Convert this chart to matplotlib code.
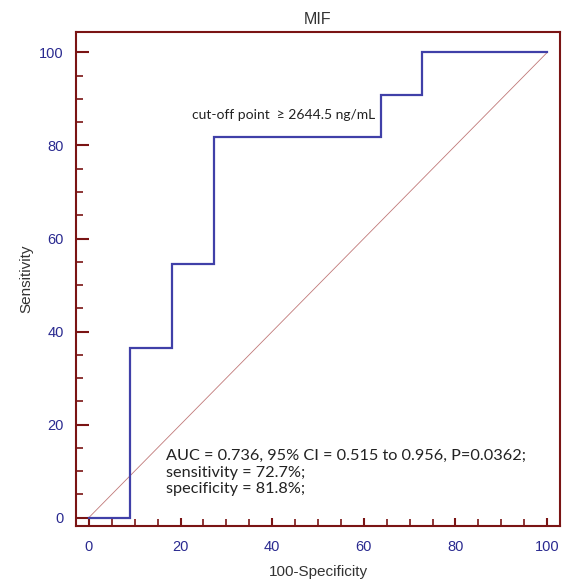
import matplotlib
matplotlib.use("Agg")
import matplotlib.pyplot as plt
from matplotlib.ticker import MultipleLocator

# ROC step coordinates (100-Specificity, Sensitivity)
fpr = [0, 9.09, 9.09, 18.18, 18.18, 27.27, 27.27, 63.64, 63.64, 72.73, 72.73, 100]
tpr = [0, 0, 36.36, 36.36, 54.55, 54.55, 81.82, 81.82, 90.91, 90.91, 100, 100]
diag = [0, 100]
title = "MIF"
cutoff_label = "cut-off point  \u2265 2644.5 ng/mL"
stats_lines = ["AUC = 0.736, 95% CI = 0.515 to 0.956, P=0.0362;",
               "sensitivity = 72.7%;",
               "specificity = 81.8%;"]
xticks = [0, 20, 40, 60, 80, 100]
yticks = [0, 20, 40, 60, 80, 100]

spine_c = "#7a1414"
line_c = "#4040a8"
tick_c = "#2a2a90"

fig = plt.figure(figsize=(5.64, 5.81), dpi=100)
ax = fig.add_axes([76/564, 1-526/581, (560-76)/564, (526-32)/581])

ax.plot(diag, diag, color="#c07878", lw=0.6)
ax.plot(fpr, tpr, color=line_c, lw=1.6, solid_joinstyle="miter")

ax.set_xlim(-2.8, 102.8)
ax.set_ylim(-1.8, 104.4)
ax.set_xticks(xticks)
ax.set_yticks(yticks)
ax.xaxis.set_minor_locator(MultipleLocator(5))
ax.yaxis.set_minor_locator(MultipleLocator(5))

for s in ax.spines.values():
    s.set_color(spine_c)
    s.set_linewidth(1.5)

ax.tick_params(which="major", direction="in", color=spine_c, width=1.5,
               labelcolor=tick_c, labelsize=10.5)
ax.tick_params(axis="y", which="major", length=9, pad=9)
ax.tick_params(axis="x", which="major", length=6, pad=10)
ax.tick_params(which="minor", direction="in", color=spine_c, width=1.2, length=5)
ax.tick_params(top=False, right=False, which="both")
for lab in ax.get_xticklabels() + ax.get_yticklabels():
    lab.set_family("Liberation Sans")

ax.set_title(title, fontsize=11.5, color="#333333", family="Liberation Sans", pad=6)
ax.set_xlabel("100-Specificity", fontsize=11, color="#333333", family="Liberation Sans", labelpad=8)
ax.set_ylabel("Sensitivity", fontsize=11, color="#333333", family="Liberation Sans", labelpad=4)

ax.text(62.4, 86.6, cutoff_label, ha="right", va="center", fontsize=10,
        family=["Lato", "DejaVu Sans"], color="#222222")
ys = [13.2, 9.6, 6.1]
for t, y in zip(stats_lines, ys):
    ax.text(16.8, y, t, ha="left", va="center", fontsize=11.7,
            family=["Lato", "DejaVu Sans"], color="#222222")

fig.savefig("out.png", dpi=100)
